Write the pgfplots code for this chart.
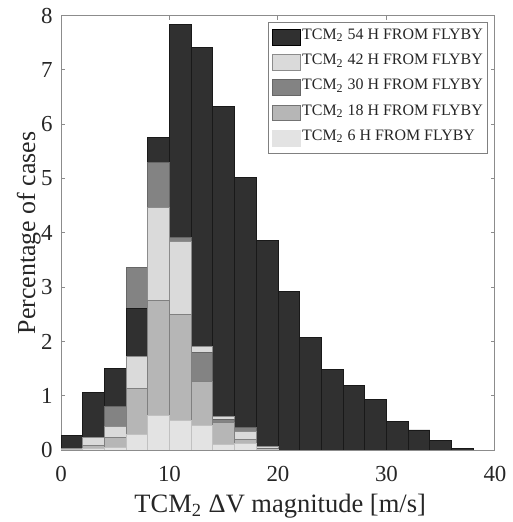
\documentclass[border=0pt]{standalone}
\usepackage{fontspec}
\setmainfont{Liberation Serif}
\usepackage{pgfplots}
\pgfplotsset{compat=1.18}
\definecolor{cA}{HTML}{303030}
\definecolor{cB}{HTML}{DADADA}
\definecolor{cC}{HTML}{838383}
\definecolor{cD}{HTML}{B6B6B6}
\definecolor{cE}{HTML}{E3E3E3}
\definecolor{axgray}{HTML}{8C8C8C}
\definecolor{txt}{HTML}{262626}
\begin{document}
\begin{tikzpicture}
\pgfplotsset{
  barbase/.style={ybar, bar width=2, bar shift=0pt, line width=0.4bp, forget plot},
  barA/.style={barbase, fill=cA, draw=black!90},
  barB/.style={barbase, fill=cB, draw=black!45},
  barC/.style={barbase, fill=cC, draw=black!60},
  barD/.style={barbase, fill=cD, draw=black!50},
  barE/.style={barbase, fill=cE, draw=cE!85!black},
}
\begin{axis}[
  scale only axis,
  width=217bp, height=217.15bp,
  xmin=0, xmax=40, ymin=0, ymax=8,
  xtick={0,10,20,30,40},
  ytick={0,1,2,3,4,5,6,7,8},
  tick align=inside,
  major tick length=2.2bp,
  axis line style={axgray, line width=0.5bp},
  every tick/.style={axgray, line width=0.5bp},
  /pgf/number format/assume math mode=true,
  tick label style={font=\fontsize{11.5}{13}\selectfont, text=txt},
  xticklabel style={anchor=base, yshift=-15.5bp},
  yticklabel style={anchor=east, inner sep=0pt, xshift=-4bp},
  xlabel={TCM\textsubscript{2} ΔV magnitude [m/s]},
  ylabel={Percentage of cases},
  every axis x label/.style={at={(axis description cs:0.505,-0.1428)}, anchor=base, font=\fontsize{13.3}{15}\selectfont, text=txt},
  every axis y label/.style={at={(axis description cs:-0.0599,0.5)}, anchor=base, rotate=90, font=\fontsize{13}{15}\selectfont, text=txt},
  legend cell align=left,
  legend image code/.code={\draw[#1, line width=0.5bp] (0bp,-3.95bp) rectangle (14.2bp,3.95bp);},
  legend style={at={(rel axis cs:1,1)}, anchor=north east, xshift=-3.65bp, yshift=-3.15bp,
    draw=black!50, line width=0.4bp, font=\fontsize{8}{9}\selectfont, text=txt,
    inner xsep=1.6bp, inner ysep=1.2bp, row sep=0pt,
    nodes={inner xsep=0.6bp, inner ysep=0pt, text height=7.3bp, text depth=5.3bp}},
]
% layer 1 (tallest in each bin)
\addplot[barA] coordinates {(1,0.27) (3,1.06) (5,1.50) (9,5.76) (11,7.84) (13,7.42) (15,6.33) (17,5.02) (19,3.86) (21,2.92) (23,2.08) (25,1.49) (27,1.19) (29,0.93) (31,0.53) (33,0.37) (35,0.18) (37,0.03)};
\addplot[barC] coordinates {(7,3.36)};
% layer 2
\addplot[barA] coordinates {(7,2.60)};
\addplot[barC] coordinates {(5,0.80) (9,5.30) (11,3.92) (17,0.41)};
\addplot[barB] coordinates {(1,0.03) (3,0.23) (13,1.90) (15,0.61) (19,0.07)};
% layer 3
\addplot[barB] coordinates {(5,0.43) (7,1.73) (9,4.47) (11,3.84) (17,0.34)};
\addplot[barC] coordinates {(1,0.02) (3,0.05) (13,1.79) (15,0.57) (19,0.03)};
% layer 4
\addplot[barD] coordinates {(1,0.02) (3,0.08) (5,0.23) (7,1.14) (9,2.76) (11,2.50) (13,1.27) (15,0.50) (17,0.20) (19,0.02)};
% layer 5
\addplot[barE] coordinates {(1,0.01) (3,0.03) (5,0.05) (7,0.28) (9,0.63) (11,0.55) (13,0.45) (15,0.11) (17,0.12) (19,0.01)};
\addlegendimage{fill=cA, draw=black}
\addlegendentry{TCM\textsubscript{2} 54 H FROM FLYBY}
\addlegendimage{fill=cB, draw=black!45}
\addlegendentry{TCM\textsubscript{2} 42 H FROM FLYBY}
\addlegendimage{fill=cC, draw=black!60}
\addlegendentry{TCM\textsubscript{2} 30 H FROM FLYBY}
\addlegendimage{fill=cD, draw=black!55}
\addlegendentry{TCM\textsubscript{2} 18 H FROM FLYBY}
\addlegendimage{fill=cE, draw=cE}
\addlegendentry{TCM\textsubscript{2} 6 H FROM FLYBY}
\end{axis}
\pgfresetboundingbox
\path[use as bounding box] (-30.5bp,-36bp) rectangle (226bp,225bp);
\end{tikzpicture}
\end{document}
